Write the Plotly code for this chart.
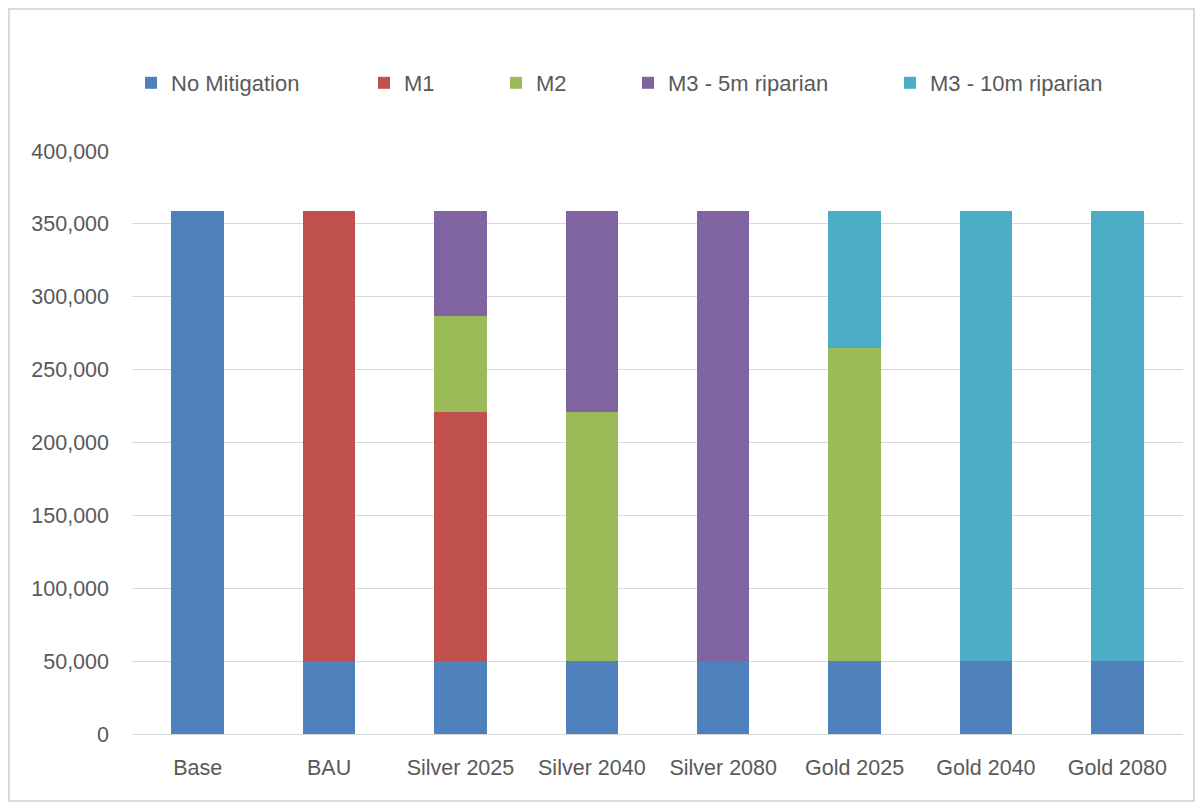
import plotly.graph_objects as go

categories = ["Base", "BAU", "Silver 2025", "Silver 2040", "Silver 2080",
              "Gold 2025", "Gold 2040", "Gold 2080"]

no_mitigation = [359000, 50000, 50000, 50000, 50000, 50000, 50000, 50000]
m1 = [0, 309000, 171000, 0, 0, 0, 0, 0]
m2 = [0, 0, 66000, 171000, 0, 215000, 0, 0]
m3_5m = [0, 0, 72000, 138000, 309000, 0, 0, 0]
m3_10m = [0, 0, 0, 0, 0, 94000, 309000, 309000]

series = [
    ("No Mitigation", no_mitigation, "#4F81BD"),
    ("M1", m1, "#C0504D"),
    ("M2", m2, "#9BBB59"),
    ("M3 - 5m riparian", m3_5m, "#8064A2"),
    ("M3 - 10m riparian", m3_10m, "#4BACC6"),
]

TEXT = "#595959"
FONT = "Liberation Sans"

# page has an 8px body margin; figure sized so nothing scrolls
OFF = 8
W, H = 1204 - 2 * OFF, 811 - 2 * OFF
# plot area in page pixels
PL, PR, PT, PB = 132, 1183, 151, 734
PW, PH = PR - PL, PB - PT

# one legend per entry so the spacing matches Excel's legend
legend_x = [131, 364, 496, 628, 890]

fig = go.Figure()
layout_legends = {}
for i, (name, vals, color) in enumerate(series):
    key = "legend" if i == 0 else f"legend{i + 1}"
    fig.add_trace(go.Bar(
        x=categories, y=vals, name=name,
        marker=dict(color=color, line=dict(width=0)),
        width=0.4,
        legend=key,
    ))
    layout_legends[key] = dict(
        orientation="h",
        x=(legend_x[i] - PL) / PW, xanchor="left",
        y=(PB - 83) / PH, yanchor="middle",
        font=dict(size=22, color=TEXT),
        bgcolor="rgba(0,0,0,0)",
        itemclick=False,
    )

fig.update_layout(
    barmode="stack",
    width=W, height=H,
    margin=dict(l=PL - OFF, r=W + OFF - PR, t=PT - OFF, b=H + OFF - PB),
    paper_bgcolor="white",
    plot_bgcolor="white",
    font=dict(family=FONT, size=21.5, color=TEXT),
    showlegend=True,
    **layout_legends,
)

fig.update_xaxes(
    showgrid=False, showline=False, ticks="",
    tickfont=dict(size=21.5, color=TEXT),
    ticklabelstandoff=18,
)
fig.update_yaxes(
    range=[0, 400000], dtick=50000, tickformat=",",
    showgrid=True, gridcolor="#D9D9D9", gridwidth=1.3,
    zeroline=True, zerolinecolor="#D9D9D9", zerolinewidth=1.3,
    showline=False, ticks="",
    tickfont=dict(size=21.5, color=TEXT),
    ticklabelstandoff=22,
)

# chart border like the Excel chart area
fig.add_shape(
    type="rect", xref="paper", yref="paper",
    x0=(OFF + 1 - PL) / PW, x1=(W + OFF - 2 - PL) / PW,
    y0=(PB - (H + OFF - 2)) / PH, y1=(PB - (OFF + 1)) / PH,
    line=dict(color="#D9D9D9", width=2), fillcolor="rgba(0,0,0,0)",
    layer="below",
)

fig.write_html("out.html")
